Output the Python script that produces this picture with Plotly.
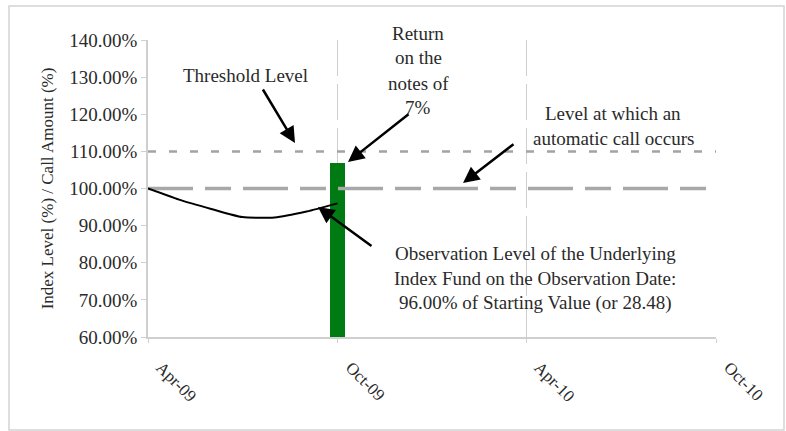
import plotly.graph_objects as go

# ---- data ----
months = ["2009-04-01", "2009-05-01", "2009-06-01", "2009-07-01",
          "2009-08-01", "2009-09-01", "2009-10-01"]
index_level = [100.0, 97.0, 94.5, 92.3, 92.2, 93.8, 96.0]

bar_date = ["2009-10-01"]
bar_value = [107.0]

range_dates = ["2009-04-01", "2010-10-01"]
threshold = [110.0, 110.0]
call_level = [100.0, 100.0]

tick_vals = ["2009-04-01", "2009-10-01", "2010-04-01", "2010-10-01"]
tick_text = ["Apr-09", "Oct-09", "Apr-10", "Oct-10"]
y_ticks = [60, 70, 80, 90, 100, 110, 120, 130, 140]
y_text = ["60.00%", "70.00%", "80.00%", "90.00%", "100.00%",
          "110.00%", "120.00%", "130.00%", "140.00%"]

FONT = "Times New Roman, 'Liberation Serif', serif"
TXT = "#2a2a2a"

fig = go.Figure()

fig.add_trace(go.Bar(x=bar_date, y=bar_value, marker_color="#007a12",
                     marker_line_width=0, width=14.5 * 86400000, showlegend=False))
fig.add_trace(go.Scatter(x=range_dates, y=threshold, mode="lines",
                         line=dict(color="#a3a3a3", width=2.5, dash="8px,13px"),
                         showlegend=False))
fig.add_trace(go.Scatter(x=range_dates, y=call_level, mode="lines",
                         line=dict(color="#a8a8a8", width=3.5, dash="45px,12px,26px,12px"),
                         showlegend=False))
fig.add_trace(go.Scatter(x=months, y=index_level, mode="lines",
                         line=dict(color="black", width=2, shape="spline", smoothing=0.6),
                         showlegend=False))

L, R, T, B = 148, 716, 40, 337
W, H = R - L, B - T


def px(x):
    return (x - L) / W


def py(y):
    return (B - y) / H


def text_lines(lines, cx, y0, step=25, size=19):
    for i, s in enumerate(lines):
        fig.add_annotation(x=px(cx), y=py(y0 + i * step), xref="paper", yref="paper",
                           text=s, showarrow=False, xanchor="center", yanchor="middle",
                           font=dict(family=FONT, size=size, color=TXT))


def arrow(tx, ty, hx, hy):
    fig.add_annotation(x=px(hx), y=py(hy), xref="paper", yref="paper",
                       ax=tx - hx, ay=ty - hy, text="", showarrow=True,
                       arrowhead=2, arrowsize=1.3, arrowwidth=2.5, arrowcolor="black")


text_lines(["Threshold Level"], 245, 75)
arrow(262, 88, 295, 143)

text_lines(["Return", "on the", "notes of", "7%"], 418, 33)
arrow(410, 113, 348, 162)

text_lines(["Level at which an", "automatic call occurs"], 613, 113)
arrow(515, 143, 463, 183)

text_lines(["Observation Level of the Underlying",
            "Index Fund on the Observation Date:",
            "96.00% of Starting Value (or 28.48)"], 535, 253)
arrow(373, 247, 318, 207)

# outer border
fig.add_shape(type="rect", xref="paper", yref="paper",
              x0=px(9), x1=px(784), y0=py(430), y1=py(6),
              line=dict(color="#d4d4d4", width=1.5), fillcolor="rgba(0,0,0,0)", layer="below")

fig.update_layout(
    width=786, height=431,
    margin=dict(l=L, r=786 - R, t=T, b=431 - B),
    paper_bgcolor="white", plot_bgcolor="white",
    bargap=0, showlegend=False,
    font=dict(family=FONT, color=TXT),
)
fig.update_xaxes(
    type="date", range=range_dates,
    tickvals=tick_vals, ticktext=tick_text, tickangle=45,
    tickfont=dict(family=FONT, size=17, color=TXT),
    ticklabelstandoff=8, ticklabelshift=13,
    showgrid=True, gridcolor="#cfcfcf", gridwidth=1, griddash="36px,8px",
    showline=True, linecolor="#cfcfcf", linewidth=1.5,
    ticks="outside", ticklen=4, tickcolor="#cfcfcf",
    zeroline=False,
)
fig.update_yaxes(
    range=[60, 140], tickvals=y_ticks, ticktext=y_text,
    tickfont=dict(family=FONT, size=19, color=TXT),
    showgrid=False, showline=True, linecolor="#cfcfcf", linewidth=1.5,
    ticks="outside", ticklen=5, tickcolor="#cfcfcf",
    title=dict(text="Index Level (%) / Call Amount (%)", standoff=11,
               font=dict(family=FONT, size=17, color=TXT)),
    zeroline=False,
)

fig.write_html("out.html")
